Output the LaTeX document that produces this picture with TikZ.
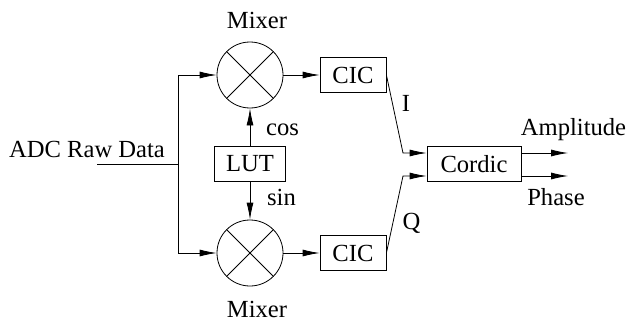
\documentclass[tikz,border=0pt]{standalone}
\usepackage{fontspec}
\setmainfont{Liberation Serif}
\usepackage{tikz}
\usetikzlibrary{arrows.meta}
\usetikzlibrary{shapes,positioning,calc}

\begin{document}
\begin{tikzpicture}[x=0.5pt, y=-0.5pt, >={Latex[length=8.5pt,width=3.5pt]},
		every node/.style={font=\fontsize{12.3}{14}\selectfont},
		mixer/.style={draw, circle, minimum size=33pt, inner sep=0pt},
		block/.style={draw, minimum height=17.5pt, inner sep=0pt},
		lbl/.style={anchor=base, inner sep=0pt}]
			\useasboundingbox (0,0) rectangle (627,321);
			% blocks
			\node[mixer] (m1) at (250,75) {};
			\node[mixer] (m2) at (250,253) {};
			\draw (m1.north east) -- (m1.south west) (m1.north west) -- (m1.south east);
			\draw (m2.north east) -- (m2.south west) (m2.north west) -- (m2.south east);
			\node[block, minimum width=35.5pt] (lut) at (250,164) {LUT};
			\node[block, minimum width=33pt] (cic1) at (353,75) {CIC};
			\node[block, minimum width=33pt] (cic2) at (353,253) {CIC};
			\node[block, minimum width=47pt] (cordic) at (474,164) {Cordic};
			% labels
			\node[lbl] (adc) at (87,157) {ADC Raw Data};
			\node[lbl] (mix1) at (257,28) {Mixer};
			\node[lbl] (mix2) at (257,317) {Mixer};
			\node[lbl] (cos) at (282.5,135) {cos};
			\node[lbl] (sin) at (281.5,205) {sin};
			\node[lbl] (ilab) at (406,111) {I};
			\node[lbl] (qlab) at (411.5,229) {Q};
			\node[lbl] (amp) at (573.5,135) {Amplitude};
			\node[lbl] (ph) at (556,205) {Phase};
			% wires
			\coordinate (in) at (97,164);
			\coordinate (split) at (178,164);
			\coordinate (ibend) at (403,153);
			\coordinate (qbend) at (403,176);
			\coordinate (ampout) at (568,153);
			\coordinate (phout) at (568,176);
			\draw (in) -- (split);
			\draw[->] (split) |- (m1);
			\draw[->] (split) |- (m2);
			\draw[->] (lut) -- (m1);
			\draw[->] (lut) -- (m2);
			\draw[->] (m1) -- (cic1);
			\draw[->] (m2) -- (cic2);
			\draw[->] (cic1.east) -- (ibend) -- (ibend -| cordic.west);
			\draw[->] (cic2.east) -- (qbend) -- (qbend -| cordic.west);
			\draw[->] (ampout -| cordic.east) -- (ampout);
			\draw[->] (phout -| cordic.east) -- (phout);
		\end{tikzpicture}
\end{document}
